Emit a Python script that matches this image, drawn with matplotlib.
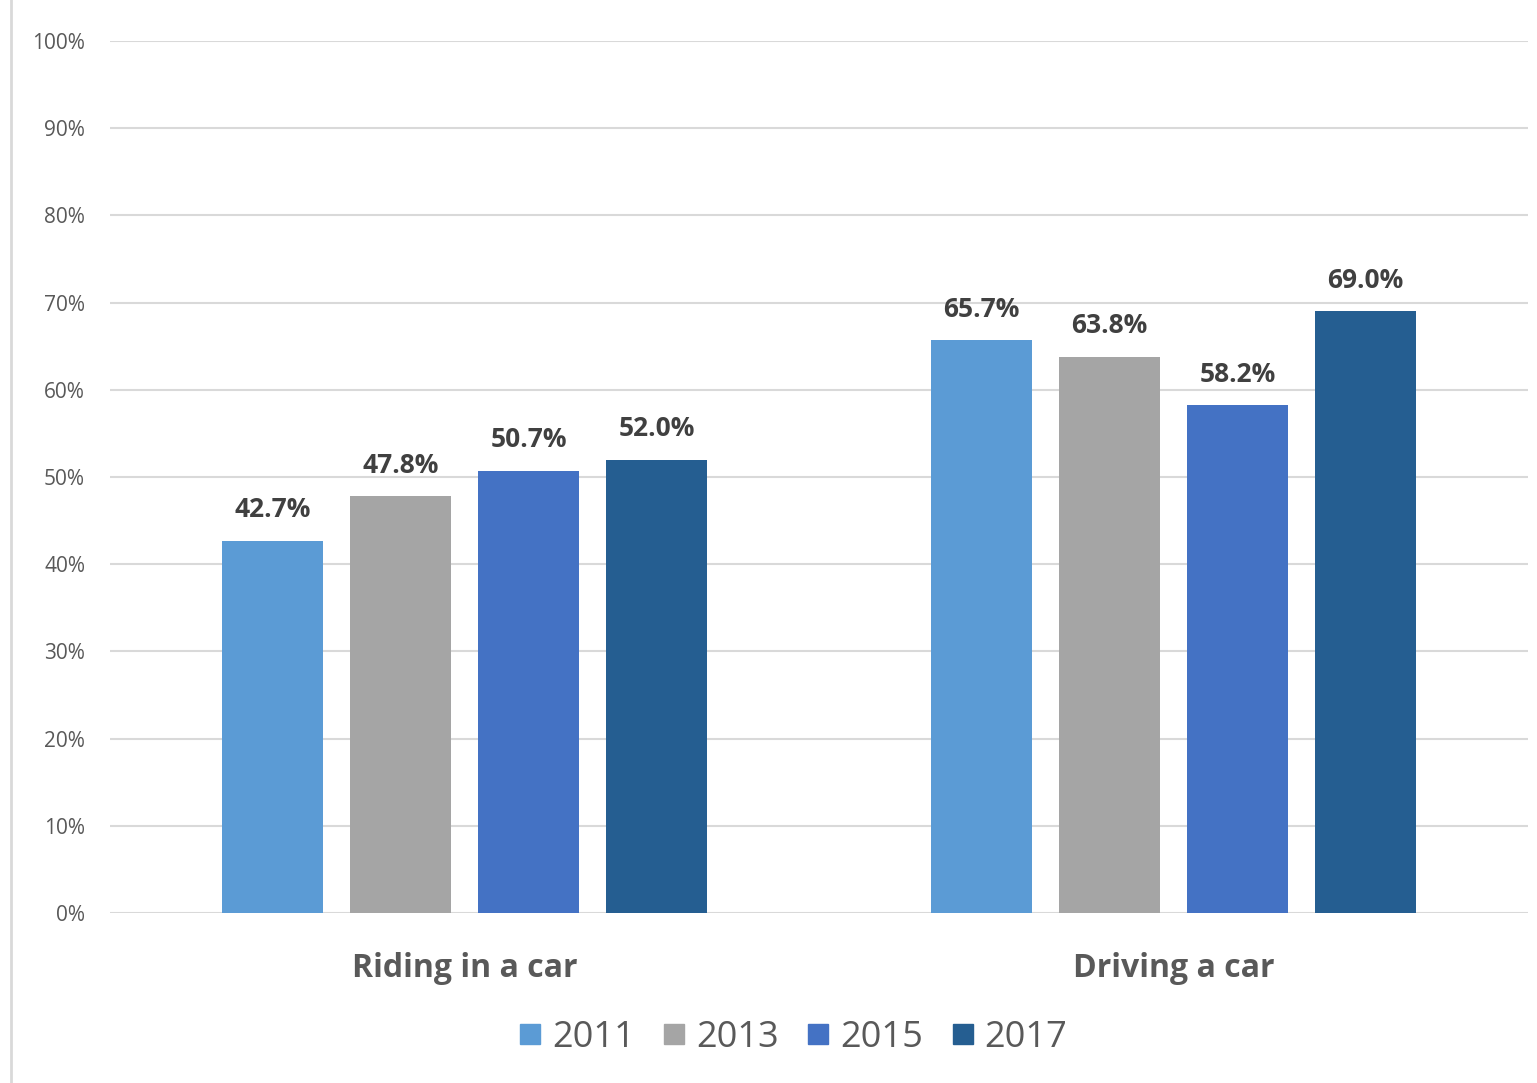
import numpy as np
import matplotlib.pyplot as plt
from matplotlib.lines import Line2D
from matplotlib.ticker import PercentFormatter

# share of respondents, by activity and survey year
categories = ["Riding in a car", "Driving a car"]
years = ["2011", "2013", "2015", "2017"]
y2011 = [42.7, 65.7]
y2013 = [47.8, 63.8]
y2015 = [50.7, 58.2]
y2017 = [52.0, 69.0]
series = [y2011, y2013, y2015, y2017]
colors = ["#5B9BD5", "#A5A5A5", "#4472C4", "#255E91"]

plt.rcParams['font.family'] = ['Open Sans', 'DejaVu Sans']
text_gray = "#595959"

fig = plt.figure(figsize=(15.37, 10.83), dpi=100)
ax = fig.add_axes([0.0716, 0.157, 0.9226, 0.8052])

x = np.arange(len(categories))
width = 0.1425
step = 0.1805
for i, (vals, c) in enumerate(zip(series, colors)):
    pos = x + (i - 1.5) * step
    bars = ax.bar(pos, vals, width, color=c, zorder=3)
    for b, v in zip(bars, vals):
        ax.text(b.get_x() + b.get_width() / 2, v + 2.0, f"{v:.1f}%",
                ha='center', va='bottom', fontsize=19, fontweight='bold',
                color="#404040")

ax.set_xlim(-0.5, 1.5)
ax.set_ylim(0, 100)
ax.set_yticks(np.arange(0, 101, 10))
ax.yaxis.set_major_formatter(PercentFormatter(decimals=0))
ax.tick_params(axis='y', length=0, pad=18, labelsize=15, labelcolor=text_gray)
ax.set_xticks(x)
ax.set_xticklabels(categories, fontsize=23, fontweight='bold', color=text_gray)
ax.tick_params(axis='x', length=0, pad=28)
ax.grid(axis='y', color="#D9D9D9", linewidth=1.5, zorder=0)
for s in ax.spines.values():
    s.set_visible(False)

# chart border on the left edge
fig.add_artist(Line2D([0.0072, 0.0072], [0.0, 1.0], color="#D9D9D9",
                      linewidth=2, transform=fig.transFigure))

handles = [Line2D([], [], marker='s', linestyle='none', markersize=15,
                  markerfacecolor=c, markeredgecolor=c) for c in colors]
fig.legend(handles, years, loc='center', bbox_to_anchor=(0.512, 0.042),
           ncol=4, frameon=False, fontsize=26, labelcolor=text_gray,
           handletextpad=-0.05, columnspacing=0.45, handlelength=1.3)

fig.savefig("out.png", dpi=100)
plt.close()
